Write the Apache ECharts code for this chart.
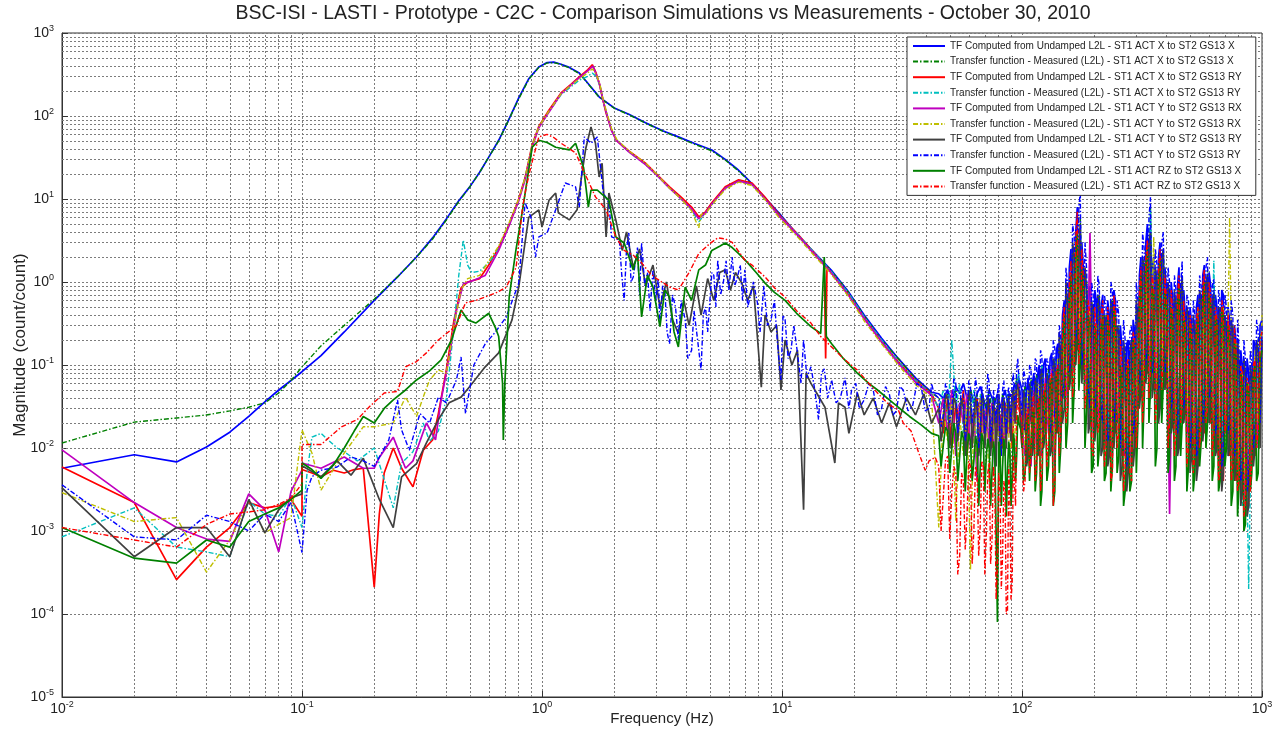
<!DOCTYPE html>
<html>
<head>
<meta charset="utf-8">
<script src="https://cdn.jsdelivr.net/npm/echarts@6.0.0/dist/echarts.min.js"></script>
<style>
  html, body { margin: 0; padding: 0; background: #fff; }
  #chart { width: 1280px; height: 742px; }
</style>
</head>
<body>
<div id="chart"></div>
<script>
// ---------------------------------------------------------------
// Transfer functions, magnitude (count/count) against frequency (Hz)
// ---------------------------------------------------------------

const TITLE = 'BSC-ISI - LASTI - Prototype - C2C - Comparison Simulations vs Measurements - October 30, 2010';

const SERIES_NAMES = [
  'TF Computed from Undamped L2L - ST1 ACT X to ST2 GS13 X',
  'Transfer function - Measured (L2L) - ST1 ACT X to ST2 GS13 X',
  'TF Computed from Undamped L2L - ST1 ACT X to ST2 GS13 RY',
  'Transfer function - Measured (L2L) - ST1 ACT X to ST2 GS13 RY',
  'TF Computed from Undamped L2L - ST1 ACT Y to ST2 GS13 RX',
  'Transfer function - Measured (L2L) - ST1 ACT Y to ST2 GS13 RX',
  'TF Computed from Undamped L2L - ST1 ACT Y to ST2 GS13 RY',
  'Transfer function - Measured (L2L) - ST1 ACT Y to ST2 GS13 RY',
  'TF Computed from Undamped L2L - ST1 ACT RZ to ST2 GS13 X',
  'Transfer function - Measured (L2L) - ST1 ACT RZ to ST2 GS13 X'
];

// decade tick values
const X_TICKS = [0.01, 0.1, 1, 10, 100, 1000];
const Y_TICKS = [1e-5, 1e-4, 1e-3, 1e-2, 1e-1, 1, 10, 100, 1000];

// shared frequency grids for the noisy upper band
const MF_FREQ = [45, 47, 49, 51, 53, 55, 57, 59, 61, 63, 65, 67, 69, 71, 73, 75, 77, 79, 81, 83, 85, 87, 89, 91, 93, 95, 97];
const MF_MID = [46, 48, 50, 52, 54, 56, 58, 60, 62, 64, 66, 68, 70, 72, 74, 76, 78, 80, 82, 84, 86, 88, 90, 92, 94, 96];
const HF_FREQ = [
  100, 103, 106, 109, 112, 115,
  118, 121, 125, 129, 133, 137, 141, 145,
  150, 155, 160, 165, 170, 175, 180,
  186, 192, 198, 204,
  210, 217, 224, 231, 238, 245, 253,
  261, 269, 277, 286, 295,
  304, 313, 323, 333, 343,
  354, 365, 376, 388, 400, 412,
  425, 438, 451, 465, 479, 494,
  509, 525, 541, 558, 575, 593,
  611, 630, 649, 669, 690,
  711, 733, 756, 779,
  803, 828, 853, 880, 907,
  935, 964, 1000
];
const HF_MID = [
  101.5, 104.5, 107.5, 110.5, 113.5, 116.5,
  119.5, 123, 127, 131, 135, 139, 143, 147.5,
  152.5, 157.5, 162.5, 167.5, 172.5, 177.5, 183,
  189, 195, 201, 207,
  213.5, 220.5, 227.5, 234.5, 241.5, 249, 257,
  265, 273, 281.5, 290.5, 299.5,
  308.5, 318, 328, 338, 348.5,
  359.5, 370.5, 382, 394, 406, 418.5,
  431.5, 444.5, 458, 472, 486.5, 501.5,
  517, 533, 549.5, 566.5, 584, 602,
  620.5, 639.5, 659, 679.5, 700.5,
  722, 744.5, 767.5, 791,
  815.5, 840.5, 866.5, 893.5, 921,
  949.5, 982
];

// ---- ST1 ACT X -> ST2 GS13 X, computed ----
const xToX_model = [
  [0.01, 5.7e-3], [0.02, 8.3e-3], [0.03, 6.8e-3], [0.04, 1.03e-2], [0.05, 1.55e-2], [0.06, 2.4e-2],
  [0.07, 3.6e-2], [0.08, 5.0e-2], [0.09, 6.5e-2], [0.1, 8.3e-2], [0.12, 0.13], [0.15, 0.25], [0.2, 0.6],
  [0.25, 1.15], [0.3, 2.0], [0.35, 3.4], [0.4, 5.8], [0.45, 9.5], [0.5, 14], [0.55, 21], [0.6, 32],
  [0.66, 51], [0.72, 85], [0.8, 165], [0.88, 280], [0.97, 390], [1.05, 440], [1.12, 445], [1.2, 420],
  [1.3, 385], [1.43, 330], [1.55, 250], [1.73, 170], [2.0, 125], [2.3, 105], [2.7, 83], [3.2, 66],
  [3.7, 56], [4.3, 47], [5.1, 39], [5.8, 30], [6.5, 23], [7.05, 18.4], [8, 12.5], [9.7, 6.8],
  [11.7, 3.6], [13.2, 2.5], [16, 1.4], [19, 0.75], [22, 0.4], [26, 0.21], [30.5, 0.12], [36, 0.07], [42, 0.047]
];
const xToX_modelMF = [0.045, 0.04, 0.05, 0.035, 0.055, 0.045, 0.06, 0.04, 0.05, 0.035, 0.045, 0.055, 0.04, 0.03,
  0.05, 0.04, 0.035, 0.045, 0.03, 0.04, 0.05, 0.035, 0.045, 0.04, 0.06, 0.05, 0.07];
const xToX_modelHF = [
  0.05, 0.02, 0.07, 0.025, 0.08, 0.03,
  0.1, 0.02, 0.12, 0.03, 0.14, 0.025, 0.18, 0.04,
  0.6, 0.08, 2.5, 0.2, 8, 0.4, 1.5,
  0.08, 0.9, 0.03, 0.6,
  0.05, 0.7, 0.02, 0.4, 0.015, 0.6, 0.03,
  0.15, 0.01, 0.2, 0.01, 0.25,
  0.06, 2, 0.12, 5, 0.2,
  2, 0.08, 3, 0.2, 0.8, 0.05,
  0.6, 0.03, 1.5, 0.06, 0.4, 0.02,
  0.3, 0.015, 0.7, 0.04, 1.6, 0.06,
  0.9, 0.03, 0.5, 0.01, 0.7,
  0.04, 0.35, 0.015, 0.2,
  0.01, 0.1, 0.006, 0.08, 0.02,
  0.18, 0.03, 0.35
];
const xToX_modelHFmid = [
  0.015, 0.05, 0.02, 0.06, 0.02, 0.08,
  0.015, 0.1, 0.02, 0.12, 0.015, 0.15, 0.025, 0.4,
  0.05, 1.5, 0.1, 4, 0.15, 3, 0.06,
  0.7, 0.02, 0.8, 0.025,
  0.5, 0.012, 0.6, 0.01, 0.8, 0.02, 0.3,
  0.008, 0.18, 0.008, 0.35, 0.03,
  1.2, 0.05, 3, 0.1, 1.5,
  0.05, 2, 0.1, 1.5, 0.03, 1,
  0.02, 0.9, 0.04, 0.8, 0.015, 0.5,
  0.01, 0.5, 0.03, 1.2, 0.04, 1.3,
  0.02, 0.7, 0.008, 0.8, 0.03,
  0.5, 0.01, 0.3, 0.008,
  0.15, 0.005, 0.12, 0.01, 0.2,
  0.02, 0.3
];

// ---- ST1 ACT X -> ST2 GS13 X, measured ----
const xToX_meas = [
  [0.01, 1.15e-2], [0.02, 2.05e-2], [0.03, 2.3e-2], [0.04, 2.5e-2], [0.05, 2.8e-2], [0.06, 3.1e-2],
  [0.07, 3.5e-2], [0.08, 4.6e-2], [0.09, 6.5e-2], [0.1, 0.095], [0.12, 0.17], [0.15, 0.3], [0.2, 0.62],
  [0.25, 1.15], [0.3, 2.0], [0.35, 3.3], [0.4, 5.6], [0.45, 9.3], [0.5, 14], [0.55, 21], [0.6, 32],
  [0.66, 50], [0.72, 85], [0.8, 160], [0.88, 275], [0.97, 385], [1.05, 435], [1.12, 440], [1.2, 418],
  [1.3, 380], [1.43, 325], [1.55, 248], [1.73, 168], [2.0, 124], [2.3, 104], [2.7, 82], [3.2, 65],
  [3.7, 55], [4.3, 46], [5.1, 38], [5.8, 29.5], [6.5, 22.5], [7.05, 18], [8, 12.3], [9.7, 6.7],
  [11.7, 3.5], [13.2, 2.45], [16, 1.38], [19, 0.74], [22, 0.39], [26, 0.2], [30.5, 0.12], [36, 0.068], [42, 0.046]
];
const xToX_measMF = [0.04, 0.03, 0.045, 0.025, 0.05, 0.03, 0.04, 0.02, 0.05, 0.035, 0.045, 0.02, 0.04, 0.03,
  0.05, 0.025, 0.04, 0.03, 0.02, 0.045, 0.03, 0.04, 0.025, 0.05, 0.04, 0.07, 0.06];
const xToX_measHF = [
  0.02, 0.06, 0.015, 0.07, 0.02, 0.08,
  0.02, 0.1, 0.025, 0.09, 0.015, 0.12, 0.03, 0.15,
  0.05, 0.6, 0.1, 2.2, 0.25, 6, 0.12,
  1, 0.025, 0.5, 0.03,
  0.7, 0.015, 0.4, 0.01, 0.6, 0.02, 0.3,
  0.01, 0.15, 0.006, 0.2, 0.015,
  0.5, 0.06, 1.8, 0.12, 8,
  0.08, 1.2, 0.05, 2.5, 0.1, 0.7,
  0.03, 0.6, 0.015, 1.2, 0.04, 0.4,
  0.012, 0.3, 0.008, 0.6, 0.025, 1.4,
  0.04, 0.8, 0.015, 0.5, 0.006,
  0.35, 0.012, 0.3, 0.006,
  0.1, 0.003, 0.08, 0.002, 0.07,
  0.012, 0.2, 0.25
];

// ---- ST1 ACT X -> ST2 GS13 RY, computed ----
const xToRY_model = [
  [0.01, 5.9e-3], [0.02, 2.2e-3], [0.03, 2.6e-4], [0.04, 6.4e-4], [0.05, 1.1e-3], [0.06, 2.2e-3],
  [0.07, 1.9e-3], [0.08, 2.0e-3], [0.09, 2.4e-3], [0.1, 1.5e-3], [0.1, 5.5e-3], [0.11, 5.0e-3],
  [0.12, 4.5e-3], [0.135, 5.4e-3], [0.15, 5.0e-3], [0.165, 5.5e-3], [0.18, 5.7e-3], [0.2, 2.1e-4],
  [0.21, 1.6e-3], [0.22, 5.0e-3], [0.24, 1.0e-2], [0.26, 5.7e-3], [0.28, 4.0e-3], [0.29, 3.4e-3],
  [0.32, 9.4e-3], [0.35, 1.25e-2], [0.37, 2.6e-2], [0.4, 0.09], [0.43, 0.35], [0.46, 0.85], [0.49, 1.0],
  [0.55, 1.1], [0.6, 1.6], [0.66, 2.6], [0.73, 5], [0.8, 10], [0.85, 18], [0.91, 45], [0.97, 75],
  [1.07, 118], [1.2, 190], [1.32, 240], [1.43, 295], [1.55, 360], [1.62, 415], [1.68, 330], [1.73, 250],
  [1.8, 150], [1.85, 108], [1.95, 68], [2.04, 51], [2.3, 38], [2.7, 27], [3.0, 20], [3.4, 14],
  [3.8, 10.5], [4.2, 8], [4.5, 6.1], [4.8, 7], [5.1, 9], [5.8, 14], [6.6, 17], [7.5, 15.6], [8.5, 10.5],
  [9.7, 6.5], [11.7, 3.7], [13.2, 2.5], [15, 1.6], [15.2, 0.12], [15.4, 1.5], [16, 1.3], [19, 0.7],
  [22, 0.37], [26, 0.19], [30.5, 0.11], [36, 0.065], [42, 0.045]
];
const xToRY_modelMF = [0.03, 0.015, 0.04, 0.01, 0.035, 0.02, 0.05, 0.008, 0.03, 0.015, 0.04, 0.012, 0.03, 0.02,
  0.035, 0.01, 0.03, 0.015, 0.025, 0.01, 0.035, 0.015, 0.03, 0.01, 0.04, 0.05, 0.04];
const xToRY_modelHF = [
  0.01, 0.04, 0.008, 0.05, 0.012, 0.06,
  0.01, 0.07, 0.015, 0.06, 0.01, 0.09, 0.015, 0.1,
  0.04, 0.5, 0.08, 1.5, 0.15, 3, 0.1,
  0.6, 0.02, 0.3, 0.02,
  0.4, 0.01, 0.25, 0.008, 0.35, 0.015, 0.2,
  0.008, 0.1, 0.005, 0.15, 0.01,
  0.35, 0.04, 1.2, 0.08, 2.5,
  0.05, 0.9, 0.03, 1.5, 0.06, 0.5,
  0.02, 0.4, 0.01, 0.8, 0.025, 0.3,
  0.008, 0.2, 0.006, 0.45, 0.015, 0.8,
  0.02, 0.5, 0.01, 0.3, 0.004,
  0.2, 0.008, 0.15, 0.004,
  0.06, 0.003, 0.05, 0.002, 0.04,
  0.008, 0.1, 0.15
];

// ---- ST1 ACT X -> ST2 GS13 RY, measured ----
const xToRY_meas = [
  [0.01, 8.5e-4], [0.02, 1.9e-3], [0.03, 6.4e-4], [0.04, 5.6e-4], [0.05, 4.9e-4], [0.06, 2.3e-3],
  [0.07, 1.6e-3], [0.08, 1.5e-3], [0.09, 2.6e-3], [0.1, 1.1e-3], [0.105, 5e-3], [0.11, 1.35e-2],
  [0.12, 1.5e-2], [0.14, 1.0e-2], [0.15, 9e-3], [0.17, 7e-3], [0.2, 1.0e-2], [0.24, 1.9e-3],
  [0.26, 6.6e-3], [0.29, 9e-3], [0.32, 2.0e-2], [0.34, 1.2e-2], [0.37, 1.6e-2], [0.4, 0.04],
  [0.43, 0.3], [0.45, 1.2], [0.47, 3.2], [0.49, 1.6], [0.51, 1.3], [0.55, 1.35], [0.6, 1.7],
  [0.66, 2.5], [0.73, 5], [0.8, 9.7], [0.85, 18], [0.91, 44], [0.97, 74], [1.07, 113], [1.2, 180],
  [1.32, 225], [1.43, 270], [1.55, 300], [1.62, 330], [1.68, 300], [1.74, 235], [1.8, 150], [1.87, 102],
  [1.95, 68], [2.05, 51], [2.3, 37], [2.7, 26], [3.0, 19.5], [3.4, 13.5], [3.8, 10], [4.2, 7.4],
  [4.5, 5.3], [4.8, 6.8], [5.1, 8.6], [5.8, 13.5], [6.6, 16.5], [7.5, 15], [8.5, 10], [9.7, 6.4],
  [11.7, 3.7], [13.2, 2.5], [16, 1.35], [19, 0.72], [22, 0.38], [26, 0.2], [30.5, 0.11], [36, 0.065], [42, 0.045]
];
const xToRY_measMF = [0.03, 0.05, 0.02, 0.2, 0.03, 0.06, 0.015, 0.04, 0.02, 0.05, 0.01, 0.045, 0.025, 0.03,
  0.012, 0.04, 0.02, 0.03, 0.008, 0.035, 0.02, 0.045, 0.015, 0.04, 0.02, 0.06, 0.08];
const xToRY_measHF = [
  0.015, 0.05, 0.01, 0.06, 0.02, 0.07,
  0.015, 0.1, 0.02, 0.08, 0.012, 0.12, 0.02, 0.15,
  0.05, 0.7, 0.1, 2, 0.2, 4, 0.1,
  0.8, 0.02, 0.4, 0.03,
  0.6, 0.015, 0.3, 0.01, 0.5, 0.02, 0.2,
  0.01, 0.1, 0.006, 0.15, 0.01,
  0.3, 0.05, 1.2, 0.1, 7.4,
  0.06, 1.2, 0.04, 2, 0.1, 0.6,
  0.02, 0.4, 0.015, 0.9, 0.03, 0.3,
  0.01, 0.2, 0.008, 0.5, 0.02, 0.8,
  0.03, 1.8, 0.015, 0.4, 0.006,
  0.3, 0.01, 0.2, 0.005,
  0.08, 0.002, 0.06, 0.0002, 0.05,
  0.01, 0.12, 0.25
];

// ---- ST1 ACT Y -> ST2 GS13 RX, computed ----
const yToRX_model = [
  [0.01, 9.5e-3], [0.02, 2.2e-3], [0.03, 1.1e-3], [0.04, 8e-4], [0.05, 7.5e-4], [0.06, 2.8e-3],
  [0.07, 1.8e-3], [0.08, 5.6e-4], [0.09, 3e-3], [0.1, 5.4e-3], [0.1, 6.6e-3], [0.12, 5.7e-3],
  [0.15, 7.8e-3], [0.18, 5.7e-3], [0.2, 5.7e-3], [0.21, 7.7e-3], [0.24, 1.35e-2], [0.27, 5.7e-3],
  [0.29, 7e-3], [0.33, 2.0e-2], [0.36, 1.25e-2], [0.38, 3.8e-2], [0.41, 0.12], [0.44, 0.45],
  [0.47, 0.95], [0.52, 1.05], [0.58, 1.2], [0.66, 2.4], [0.73, 4.8], [0.8, 9.5], [0.85, 17], [0.91, 42],
  [0.97, 72], [1.07, 112], [1.2, 185], [1.32, 235], [1.43, 290], [1.55, 350], [1.63, 400], [1.68, 320],
  [1.74, 240], [1.8, 150], [1.87, 100], [1.95, 66], [2.05, 50], [2.3, 37], [2.7, 26], [3.0, 19.5],
  [3.4, 13.5], [3.8, 10], [4.2, 7.6], [4.5, 5.8], [4.8, 6.8], [5.1, 8.7], [5.8, 13.5], [6.6, 16.5],
  [7.5, 15], [8.5, 10], [9.7, 6.3], [11.7, 3.6], [13.2, 2.4], [16, 1.3], [19, 0.68], [22, 0.36],
  [26, 0.19], [30.5, 0.105], [36, 0.062], [42, 0.043]
];
const yToRX_modelMF = [0.02, 0.04, 0.015, 0.05, 0.008, 0.035, 0.02, 0.045, 0.01, 0.03, 0.004, 0.04, 0.015, 0.03,
  0.01, 0.035, 0.006, 0.03, 0.012, 0.04, 0.008, 0.03, 0.015, 0.045, 0.02, 0.05, 0.06];
const yToRX_modelHF = [
  0.02, 0.008, 0.04, 0.006, 0.05, 0.01,
  0.05, 0.008, 0.07, 0.015, 0.09, 0.006, 0.1, 0.012,
  0.25, 0.03, 0.6, 0.08, 1.5, 0.15, 0.5,
  0.04, 3.9, 0.015, 0.25,
  0.02, 0.3, 0.01, 0.15, 0.008, 0.25, 0.015,
  0.06, 0.008, 0.08, 0.006, 0.12,
  0.03, 0.6, 0.04, 1.5, 0.06,
  0.8, 0.03, 1.2, 0.08, 0.5, 0.0016,
  0.3, 0.015, 0.6, 0.02, 0.25, 0.01,
  0.15, 0.006, 0.4, 0.015, 0.7, 0.02,
  0.3, 0.01, 0.25, 0.006, 0.35,
  0.015, 0.15, 0.005, 0.1,
  0.004, 0.06, 0.002, 0.05, 0.006,
  0.1, 0.01, 0.2
];

// ---- ST1 ACT Y -> ST2 GS13 RX, measured ----
const yToRX_meas = [
  [0.01, 2.9e-3], [0.02, 1.3e-3], [0.03, 1.45e-3], [0.04, 3.2e-4], [0.05, 7.8e-4], [0.06, 2.3e-3],
  [0.07, 9.5e-4], [0.08, 1.2e-3], [0.09, 1.45e-3], [0.1, 1.65e-2], [0.11, 8.7e-3], [0.12, 3.1e-3],
  [0.14, 6.6e-3], [0.18, 1.8e-2], [0.2, 1.8e-2], [0.24, 2.0e-2], [0.27, 4.1e-2], [0.3, 2.4e-2],
  [0.32, 4.1e-2], [0.34, 6.6e-2], [0.37, 0.087], [0.4, 0.08], [0.43, 0.3], [0.46, 0.8], [0.49, 1.1],
  [0.55, 1.2], [0.6, 1.8], [0.66, 2.7], [0.73, 5.2], [0.8, 10], [0.85, 18], [0.91, 44], [0.97, 74],
  [1.07, 115], [1.2, 185], [1.32, 235], [1.43, 280], [1.55, 330], [1.62, 370], [1.68, 320], [1.74, 245],
  [1.8, 155], [1.87, 105], [1.95, 70], [2.05, 52], [2.3, 38], [2.7, 27], [3.0, 20], [3.4, 13.5],
  [3.8, 10], [4.2, 7.2], [4.4, 5.2], [4.5, 4.5], [4.6, 6.5], [4.8, 6.6], [5.1, 8.5], [5.8, 13],
  [6.6, 16], [7.5, 14.5], [8.5, 9.8], [9.7, 6.0], [11.7, 3.4], [13.2, 2.3], [16, 1.25], [19, 0.66],
  [22, 0.34], [26, 0.18], [30.5, 0.1], [36, 0.058], [42, 0.04]
];
const yToRX_measMF = [0.0011, 0.03, 0.012, 0.04, 0.0013, 0.025, 0.008, 0.035, 0.00034, 0.03, 0.006, 0.04, 0.01,
  0.025, 0.004, 0.03, 0.008, 0.02, 0.005, 0.03, 0.01, 0.04, 0.006, 0.035, 0.01, 0.05, 0.04];
const yToRX_measHF = [
  0.03, 0.01, 0.05, 0.008, 0.04, 0.015,
  0.06, 0.01, 0.05, 0.02, 0.08, 0.01, 0.12, 0.02,
  0.3, 0.05, 0.8, 0.1, 2.5, 0.2, 0.6,
  0.05, 0.5, 0.02, 0.3,
  0.03, 0.4, 0.02, 0.2, 0.01, 0.3, 0.02,
  0.08, 0.01, 0.1, 0.008, 0.15,
  0.04, 0.8, 0.05, 2, 0.1,
  3.5, 0.05, 1.5, 0.1, 0.6, 0.03,
  0.4, 0.02, 0.8, 0.03, 0.3, 0.02,
  0.2, 0.01, 0.5, 0.02, 0.9, 0.03,
  0.4, 0.02, 0.3, 0.01, 0.5,
  0.02, 6, 0.01, 0.2,
  0.005, 0.08, 0.003, 0.06, 0.01,
  0.15, 0.02, 0.4
];

// ---- ST1 ACT Y -> ST2 GS13 RY, computed ----
const yToRY_model = [
  [0.01, 3.3e-3], [0.02, 4.9e-4], [0.03, 1.1e-3], [0.04, 1.1e-3], [0.05, 4.9e-4], [0.06, 2.4e-3],
  [0.07, 9.5e-4], [0.08, 1.8e-3], [0.09, 2.5e-3], [0.1, 2.8e-3], [0.1, 6.1e-3], [0.12, 4.5e-3],
  [0.14, 7e-3], [0.16, 4.7e-3], [0.18, 7.5e-3], [0.21, 2.4e-3], [0.24, 1.1e-3], [0.26, 4.5e-3],
  [0.3, 6.5e-3], [0.33, 1.15e-2], [0.37, 2.2e-2], [0.41, 3.5e-2], [0.46, 4.1e-2], [0.5, 5.5e-2],
  [0.58, 9.5e-2], [0.66, 0.14], [0.75, 0.35], [0.8, 0.87], [0.85, 3], [0.88, 6], [0.97, 7.4], [1.0, 4.6],
  [1.07, 9.7], [1.14, 11.8], [1.17, 6.8], [1.3, 5.6], [1.4, 7.4], [1.46, 18.4], [1.52, 40], [1.6, 74],
  [1.67, 47], [1.73, 18.4], [1.78, 27], [1.85, 3.5], [1.9, 11.8], [2.03, 5.6], [2.16, 2.4], [2.25, 4],
  [2.4, 1.5], [2.55, 2.5], [2.7, 0.9], [2.9, 1.6], [3.1, 0.5], [3.3, 1.0], [3.5, 0.35], [3.7, 0.24],
  [3.9, 0.6], [4.1, 0.3], [4.4, 0.9], [4.6, 0.4], [4.9, 1.1], [5.2, 0.6], [5.5, 1.3], [5.8, 1.4],
  [6.1, 0.8], [6.4, 1.3], [6.8, 0.97], [7.2, 0.6], [7.6, 0.9], [8.2, 0.054], [8.5, 0.4], [9, 0.25],
  [9.5, 0.3], [9.9, 0.05], [10.3, 0.2], [11, 0.1], [11.6, 0.15], [12.3, 1.8e-3], [12.6, 0.08],
  [13.2, 0.06], [14, 0.045], [15.1, 0.031], [16.6, 6.6e-3], [17.2, 0.035], [18.3, 0.031], [19, 0.015],
  [20.6, 0.046], [22, 0.025], [24, 0.04], [26, 0.02], [28, 0.035], [30, 0.018], [33, 0.04], [36, 0.025],
  [39, 0.045], [42, 0.02]
];
const yToRY_modelMF = [0.03, 0.02, 0.04, 0.018, 0.035, 0.025, 0.03, 0.015, 0.04, 0.02, 0.03, 0.012, 0.035, 0.02,
  0.03, 0.015, 0.025, 0.03, 0.01, 0.035, 0.02, 0.03, 0.02, 0.04, 0.025, 0.06, 0.05];
const yToRY_modelMFmid = [0.012, 0.045, 0.01, 0.04, 0.012, 0.04, 0.008, 0.05, 0.01, 0.04, 0.008, 0.045, 0.01,
  0.04, 0.008, 0.04, 0.006, 0.045, 0.008, 0.04, 0.01, 0.045, 0.012, 0.05, 0.02, 0.06];
const yToRY_modelHF = [
  0.01, 0.04, 0.008, 0.05, 0.012, 0.06,
  0.01, 0.08, 0.015, 0.06, 0.01, 0.1, 0.02, 0.12,
  0.03, 0.5, 0.08, 2, 0.2, 5, 0.1,
  0.8, 0.02, 0.4, 0.02,
  0.5, 0.01, 0.3, 0.008, 0.5, 0.02, 0.25,
  0.006, 0.12, 0.005, 0.2, 0.01,
  0.4, 0.05, 1.5, 0.1, 4,
  0.06, 1, 0.03, 2.5, 0.08, 0.7,
  0.02, 0.5, 0.01, 1.2, 0.03, 0.4,
  0.008, 0.25, 0.006, 0.6, 0.02, 1.2,
  0.03, 0.7, 0.01, 0.4, 0.005,
  0.3, 0.01, 0.25, 0.006,
  0.1, 0.003, 0.08, 0.002, 0.07,
  0.01, 0.15, 0.2
];
const yToRY_modelHFmid = [
  0.05, 0.006, 0.06, 0.008, 0.07, 0.008,
  0.09, 0.01, 0.08, 0.008, 0.12, 0.015, 0.25, 0.02,
  1, 0.05, 3, 0.1, 2, 0.06, 1.5,
  0.015, 0.6, 0.012, 0.7,
  0.008, 0.4, 0.006, 0.6, 0.01, 0.3, 0.004,
  0.2, 0.003, 0.15, 0.006, 0.6,
  0.03, 2, 0.06, 3, 0.04,
  1.5, 0.02, 1.8, 0.05, 1, 0.015,
  0.8, 0.008, 0.7, 0.02, 0.5, 0.005,
  0.4, 0.004, 0.8, 0.012, 1, 0.02,
  0.6, 0.008, 0.5, 0.003, 0.4,
  0.008, 0.35, 0.004, 0.2,
  0.002, 0.12, 0.0015, 0.1, 0.006,
  0.2, 0.01
];

// ---- ST1 ACT Y -> ST2 GS13 RY, measured ----
const yToRY_meas = [
  [0.01, 3.6e-3], [0.02, 8.5e-4], [0.03, 7.8e-4], [0.04, 1.55e-3], [0.05, 1.3e-3], [0.06, 1.0e-3],
  [0.07, 1.6e-3], [0.08, 1.3e-3], [0.09, 2.2e-3], [0.1, 5.5e-4], [0.105, 3.1e-3], [0.11, 4.5e-3],
  [0.12, 5.4e-3], [0.14, 5.9e-3], [0.16, 7.8e-3], [0.18, 7e-3], [0.2, 6e-3], [0.23, 1.25e-2],
  [0.25, 3.8e-2], [0.26, 1.65e-2], [0.28, 9.4e-3], [0.31, 2.6e-2], [0.34, 2.0e-2], [0.37, 4.1e-2],
  [0.4, 3.5e-2], [0.44, 6.6e-2], [0.46, 0.125], [0.48, 0.026], [0.52, 0.1], [0.58, 0.18], [0.64, 0.25],
  [0.71, 0.38], [0.8, 0.97], [0.85, 9], [0.9, 6], [0.94, 2.0], [0.97, 3.5], [1.05, 3.9], [1.14, 7.4],
  [1.25, 15.6], [1.38, 14], [1.43, 8], [1.5, 56], [1.6, 47], [1.7, 56], [1.8, 11.8], [1.9, 9],
  [1.95, 3.5], [2.1, 3.2], [2.15, 1.2], [2.2, 0.6], [2.25, 2.5], [2.3, 3.9], [2.35, 1.0], [2.4, 1.15],
  [2.5, 2.6], [2.55, 0.7], [2.6, 2.95], [2.68, 0.9], [2.75, 1.3], [2.82, 0.45], [2.9, 1.4], [2.98, 0.6],
  [3.05, 1.1], [3.1, 0.32], [3.18, 0.9], [3.25, 0.8], [3.32, 0.25], [3.4, 0.18], [3.5, 0.7], [3.6, 0.5],
  [3.7, 0.2], [3.8, 0.6], [3.95, 0.35], [4.05, 0.12], [4.2, 0.15], [4.3, 0.45], [4.45, 0.2], [4.6, 0.087],
  [4.7, 0.4], [4.8, 0.5], [4.9, 0.25], [5.0, 0.56], [5.1, 1.3], [5.2, 1.2], [5.3, 0.5], [5.4, 1.84],
  [5.55, 0.7], [5.7, 1.0], [5.85, 1.8], [6.0, 0.8], [6.2, 2.0], [6.35, 0.9], [6.5, 1.1], [6.7, 1.6],
  [6.85, 0.6], [7.0, 1.4], [7.2, 0.5], [7.4, 0.7], [7.6, 1.0], [7.9, 0.56], [8.1, 0.25], [8.4, 0.9],
  [8.7, 0.3], [9.0, 0.35], [9.3, 0.6], [9.5, 0.25], [9.7, 0.12], [9.9, 0.066], [10.1, 0.4], [10.3, 0.35],
  [10.6, 0.12], [10.9, 0.15], [11.2, 0.3], [11.6, 0.14], [12.0, 0.06], [12.3, 0.2], [12.7, 0.07],
  [13.2, 0.095], [13.7, 0.05], [14.2, 0.022], [14.6, 0.08], [15, 0.09], [15.5, 0.04], [16.1, 0.066],
  [16.8, 0.035], [17.5, 0.04], [18.3, 0.07], [19, 0.03], [19.5, 0.05], [20.3, 0.06], [21, 0.03],
  [22, 0.038], [23, 0.06], [24, 0.05], [25, 0.025], [26, 0.03], [27, 0.055], [28, 0.045], [29, 0.025],
  [30, 0.028], [31, 0.055], [32, 0.05], [33.5, 0.028], [35, 0.032], [36.5, 0.06], [38, 0.055],
  [39.5, 0.028], [41, 0.03], [42, 0.06], [43, 0.045]
];
const yToRY_measMF = [0.04, 0.025, 0.05, 0.03, 0.06, 0.028, 0.045, 0.02, 0.055, 0.03, 0.05, 0.015, 0.04, 0.025,
  0.06, 0.02, 0.035, 0.045, 0.012, 0.05, 0.025, 0.04, 0.03, 0.06, 0.035, 0.09, 0.07];
const yToRY_measMFmid = [0.018, 0.06, 0.02, 0.07, 0.015, 0.055, 0.012, 0.065, 0.02, 0.07, 0.01, 0.055, 0.015,
  0.08, 0.012, 0.05, 0.02, 0.06, 0.008, 0.065, 0.015, 0.055, 0.02, 0.08, 0.03, 0.12];
const yToRY_measHF = [
  0.025, 0.07, 0.02, 0.09, 0.03, 0.11,
  0.025, 0.13, 0.03, 0.1, 0.02, 0.16, 0.04, 0.22,
  0.06, 0.9, 0.12, 3.5, 0.3, 12, 0.15,
  1.4, 0.03, 0.7, 0.04,
  0.9, 0.02, 0.5, 0.015, 0.8, 0.03, 0.4,
  0.01, 0.2, 0.008, 0.3, 0.02,
  0.6, 0.08, 2.5, 0.15, 10.5,
  0.1, 1.6, 0.06, 4, 0.12, 1,
  0.04, 0.8, 0.02, 1.8, 0.05, 0.6,
  0.015, 0.4, 0.01, 0.9, 0.03, 2,
  0.05, 1.1, 0.02, 0.6, 0.008,
  0.5, 0.02, 0.4, 0.01,
  0.15, 0.005, 0.12, 0.004, 0.1,
  0.015, 0.25, 0.3
];
const yToRY_measHFmid = [
  0.09, 0.015, 0.1, 0.02, 0.12, 0.02,
  0.15, 0.02, 0.12, 0.015, 0.2, 0.025, 0.3, 0.04,
  1.5, 0.08, 5, 0.2, 8, 0.1, 3,
  0.05, 1.0, 0.03, 1.2,
  0.03, 0.7, 0.012, 1.0, 0.02, 0.6, 0.01,
  0.35, 0.006, 0.25, 0.015, 1.0,
  0.06, 4, 0.1, 6, 0.08,
  2.5, 0.05, 3, 0.08, 1.5, 0.03,
  1.2, 0.015, 0.9, 0.03, 0.7, 0.01,
  0.6, 0.008, 1.2, 0.02, 1.5, 0.04,
  0.9, 0.015, 0.8, 0.006, 0.7,
  0.015, 0.6, 0.008, 0.35,
  0.004, 0.2, 0.003, 0.15, 0.01,
  0.35, 0.02
];

// ---- ST1 ACT RZ -> ST2 GS13 X, computed ----
const rzToX_model = [
  [0.01, 1.1e-3], [0.02, 4.7e-4], [0.03, 4.1e-4], [0.04, 7.8e-4], [0.05, 6.4e-4], [0.06, 1.3e-3],
  [0.07, 1.6e-3], [0.08, 1.9e-3], [0.09, 2.4e-3], [0.1, 3.1e-3], [0.1, 6.6e-3], [0.11, 5.5e-3],
  [0.12, 4.3e-3], [0.135, 6.2e-3], [0.15, 1.0e-2], [0.165, 1.6e-2], [0.18, 2.4e-2], [0.2, 2.0e-2],
  [0.22, 3.0e-2], [0.24, 3.8e-2], [0.27, 5.0e-2], [0.3, 6.6e-2], [0.34, 8.5e-2], [0.38, 0.115],
  [0.42, 0.2], [0.46, 0.46], [0.49, 0.35], [0.53, 0.32], [0.6, 0.42], [0.64, 0.28], [0.66, 0.22],
  [0.685, 0.06], [0.69, 0.0125], [0.7, 0.06], [0.73, 0.66], [0.78, 2.5], [0.83, 7.4], [0.87, 18],
  [0.91, 42], [0.97, 51], [1.05, 48], [1.14, 42], [1.3, 39], [1.38, 47], [1.49, 24], [1.56, 8],
  [1.6, 12.8], [1.7, 12.8], [1.9, 9.7], [2.03, 3.5], [2.2, 2.95], [2.4, 1.4], [2.5, 2.2], [2.6, 0.38],
  [2.75, 1.2], [2.9, 0.87], [3.1, 0.29], [3.25, 0.8], [3.4, 0.66], [3.55, 0.25], [3.7, 0.165],
  [3.95, 0.87], [4.2, 0.6], [4.5, 1.4], [4.8, 1.6], [5.1, 2.4], [5.5, 2.7], [5.8, 2.95], [6.2, 2.6],
  [6.6, 2.2], [7.2, 1.7], [7.8, 1.3], [8.5, 0.97], [9.3, 0.75], [10.3, 0.6], [11.5, 0.42], [13.2, 0.29],
  [14.5, 0.24], [15, 2.0], [15.3, 0.22], [16.1, 0.18], [18, 0.12], [20.6, 0.08], [23, 0.06], [25, 0.05],
  [28, 0.038], [30.5, 0.031], [34, 0.024], [38, 0.019], [42, 0.015]
];
const rzToX_modelMF = [0.014, 0.011, 0.016, 0.01, 0.015, 0.008, 0.013, 0.009, 0.012, 0.007, 0.011, 0.006, 0.012,
  0.008, 0.01, 0.005, 0.009, 0.00008, 0.009, 0.006, 0.01, 0.005, 0.009, 0.004, 0.012, 0.008, 0.02];
const rzToX_modelMFmid = [0.006, 0.018, 0.005, 0.02, 0.004, 0.016, 0.003, 0.015, 0.004, 0.014, 0.002, 0.015, 0.003,
  0.013, 0.002, 0.012, 0.001, 0.012, 0.002, 0.013, 0.0015, 0.012, 0.002, 0.015, 0.004, 0.025];
const rzToX_modelHF = [
  0.015, 0.005, 0.025, 0.004, 0.03, 0.005,
  0.04, 0.003, 0.05, 0.006, 0.07, 0.003, 0.09, 0.01,
  0.4, 0.02, 1.2, 0.05, 4, 0.1, 0.8,
  0.03, 0.3, 0.006, 0.2,
  0.01, 0.4, 0.005, 0.25, 0.006, 0.35, 0.008,
  0.06, 0.003, 0.1, 0.004, 0.15,
  0.02, 1.2, 0.04, 2.5, 0.05,
  0.7, 0.01, 1.8, 0.06, 0.5, 0.008,
  0.3, 0.006, 0.9, 0.02, 0.25, 0.006,
  0.2, 0.005, 0.4, 0.012, 1.0, 0.02,
  0.5, 0.006, 0.3, 0.004, 0.4,
  0.01, 0.2, 0.003, 0.12,
  0.004, 0.06, 0.0012, 0.05, 0.005,
  0.1, 0.005, 0.15
];
const rzToX_modelHFmid = [
  0.004, 0.02, 0.004, 0.025, 0.003, 0.03,
  0.002, 0.04, 0.004, 0.06, 0.002, 0.08, 0.005, 0.2,
  0.01, 0.7, 0.02, 2, 0.05, 1.5, 0.01,
  0.4, 0.005, 0.3, 0.006,
  0.25, 0.004, 0.35, 0.003, 0.5, 0.005, 0.1,
  0.002, 0.08, 0.003, 0.2, 0.005,
  0.6, 0.01, 1.5, 0.02, 0.9,
  0.006, 1.0, 0.02, 0.8, 0.005, 0.5,
  0.004, 0.5, 0.008, 0.4, 0.003, 0.3,
  0.003, 0.25, 0.006, 0.6, 0.01, 0.7,
  0.004, 0.4, 0.003, 0.5, 0.006,
  0.3, 0.002, 0.2, 0.0015,
  0.08, 0.001, 0.06, 0.003, 0.08,
  0.004, 0.12
];

// ---- ST1 ACT RZ -> ST2 GS13 X, measured ----
const rzToX_meas = [
  [0.01, 1.1e-3], [0.02, 7.8e-4], [0.03, 6.4e-4], [0.04, 1.2e-3], [0.05, 1.6e-3], [0.06, 1.7e-3],
  [0.07, 1.8e-3], [0.08, 2.1e-3], [0.09, 2.5e-3], [0.1, 3.7e-3], [0.1, 1.1e-2], [0.12, 1.1e-2],
  [0.146, 1.8e-2], [0.17, 2.2e-2], [0.19, 3.1e-2], [0.22, 4.6e-2], [0.25, 4.8e-2], [0.27, 9.5e-2],
  [0.3, 0.11], [0.33, 0.14], [0.37, 0.2], [0.4, 0.24], [0.44, 0.3], [0.48, 0.56], [0.53, 0.6],
  [0.58, 0.66], [0.65, 0.75], [0.71, 0.87], [0.78, 1.5], [0.83, 8], [0.86, 14], [0.9, 25], [0.97, 56],
  [1.05, 60], [1.12, 55], [1.2, 47], [1.38, 36], [1.5, 21], [1.67, 10.6], [1.85, 7.4], [2.03, 3.5],
  [2.2, 2.4], [2.4, 2.1], [2.6, 1.7], [2.8, 1.3], [3.0, 1.1], [3.4, 0.87], [3.7, 0.8], [4.1, 1.3],
  [4.5, 2.2], [5.0, 2.9], [5.4, 3.4], [5.8, 3.3], [6.2, 3.0], [7.0, 1.84], [7.5, 1.6], [8.5, 1.15],
  [9.3, 0.85], [10.3, 0.66], [11.5, 0.45], [13.2, 0.32], [14.5, 0.22], [16.1, 0.165], [18, 0.12],
  [20.6, 0.087], [23, 0.06], [25, 0.046], [28, 0.033], [30.5, 0.029], [32, 0.02], [34.5, 0.016],
  [37, 0.009], [39.5, 0.0054], [41, 0.007], [43.5, 0.0077]
];
const rzToX_measMF = [0.006, 0.0026, 0.008, 0.003, 0.005, 0.0005, 0.004, 0.0015, 0.006, 0.001, 0.005, 0.0012,
  0.006, 0.00085, 0.0066, 0.0008, 0.004, 0.0004, 0.003, 0.0005, 0.003, 0.00011, 0.0026, 0.00023, 0.004, 0.026, 0.03];
const rzToX_measMFmid = [0.001, 0.007, 0.0008, 0.006, 0.0003, 0.005, 0.0006, 0.007, 0.0004, 0.006, 0.0005, 0.007,
  0.0003, 0.005, 0.0004, 0.006, 0.00015, 0.005, 0.0002, 0.004, 0.0001, 0.006, 0.00015, 0.008, 0.002, 0.04];
const rzToX_measHF = [
  0.02, 0.004, 0.03, 0.008, 0.045, 0.006,
  0.035, 0.005, 0.06, 0.012, 0.08, 0.004, 0.1, 0.015,
  0.5, 0.03, 1.8, 0.08, 7, 0.2, 1.2,
  0.05, 0.4, 0.008, 0.25,
  0.02, 0.6, 0.01, 0.3, 0.005, 0.45, 0.015,
  0.09, 0.006, 0.12, 0.004, 0.2,
  0.03, 1.5, 0.06, 3.2, 0.08,
  0.9, 0.04, 2.5, 0.1, 0.6, 0.02,
  0.4, 0.015, 1.2, 0.03, 0.3, 0.01,
  0.25, 0.008, 0.5, 0.02, 1.4, 0.03,
  0.7, 0.015, 0.35, 0.005, 0.5,
  0.02, 0.25, 0.006, 0.15,
  0.004, 0.08, 0.002, 0.06, 0.008,
  0.12, 0.015, 0.25
];
const rzToX_measHFmid = [
  0.003, 0.025, 0.005, 0.035, 0.004, 0.04,
  0.003, 0.05, 0.006, 0.07, 0.002, 0.09, 0.008, 0.3,
  0.02, 1.0, 0.04, 3.5, 0.1, 2.5, 0.03,
  0.6, 0.01, 0.5, 0.015,
  0.4, 0.006, 0.5, 0.004, 0.7, 0.01, 0.2,
  0.003, 0.1, 0.005, 0.25, 0.01,
  0.8, 0.02, 2, 0.04, 1.2,
  0.02, 1.5, 0.05, 1.2, 0.01, 0.8,
  0.008, 0.7, 0.02, 0.6, 0.006, 0.4,
  0.005, 0.35, 0.01, 0.9, 0.02, 1.0,
  0.008, 0.5, 0.004, 0.6, 0.015,
  0.4, 0.004, 0.3, 0.003,
  0.1, 0.0015, 0.07, 0.003, 0.1,
  0.01, 0.2
];

// ---------------------------------------------------------------
function pairUp(freqs, mags) {
  return mags ? freqs.map((f, i) => [f, mags[i]]) : [];
}
// joins the low-band points with the two shared upper-band grids
function trace(low, mf, hf, mfMid, hfMid) {
  const upper = pairUp(MF_FREQ, mf)
    .concat(pairUp(MF_MID, mfMid), pairUp(HF_FREQ, hf), pairUp(HF_MID, hfMid))
    .sort((a, b) => a[0] - b[0]);
  return low.concat(upper);
}

const SOLID = 'solid';
const DASH_DOT = [5, 2, 1.5, 2];

const traces = [
  { data: trace(xToX_model, xToX_modelMF, xToX_modelHF, null, xToX_modelHFmid), color: '#0000ff', dash: SOLID },
  { data: trace(xToX_meas, xToX_measMF, xToX_measHF), color: '#008000', dash: DASH_DOT },
  { data: trace(xToRY_model, xToRY_modelMF, xToRY_modelHF), color: '#ff0000', dash: SOLID },
  { data: trace(xToRY_meas, xToRY_measMF, xToRY_measHF), color: '#00bfbf', dash: DASH_DOT },
  { data: trace(yToRX_model, yToRX_modelMF, yToRX_modelHF), color: '#bf00bf', dash: SOLID },
  { data: trace(yToRX_meas, yToRX_measMF, yToRX_measHF), color: '#bfbf00', dash: DASH_DOT },
  { data: trace(yToRY_model, yToRY_modelMF, yToRY_modelHF, yToRY_modelMFmid, yToRY_modelHFmid), color: '#404040', dash: SOLID },
  { data: trace(yToRY_meas, yToRY_measMF, yToRY_measHF, yToRY_measMFmid, yToRY_measHFmid), color: '#0000ff', dash: DASH_DOT },
  { data: trace(rzToX_model, rzToX_modelMF, rzToX_modelHF, rzToX_modelMFmid, rzToX_modelHFmid), color: '#008000', dash: SOLID },
  { data: trace(rzToX_meas, rzToX_measMF, rzToX_measHF, rzToX_measMFmid, rzToX_measHFmid), color: '#ff0000', dash: DASH_DOT }
];

// minor grid positions (2..9 within each decade)
function minorValues(decades) {
  const out = [];
  for (let i = 0; i < decades.length - 1; i++) {
    for (let k = 2; k <= 9; k++) out.push(+(decades[i] * k).toPrecision(6));
  }
  return out;
}
const X_MINOR = minorValues(X_TICKS);
const Y_MINOR = minorValues(Y_TICKS);

const FONT = '"Liberation Sans", Arial, Helvetica, sans-serif';
const GRID_COLOR = '#7c7c7c';
const GRID_DASH = [2, 2];

function powerLabel(v) {
  const e = Math.round(Math.log10(v));
  return '{b|10}{e|' + e + '}';
}
const labelRich = {
  b: { fontSize: 14, fontFamily: FONT, color: '#222', lineHeight: 18 },
  e: { fontSize: 9, fontFamily: FONT, color: '#222', verticalAlign: 'top', lineHeight: 10 }
};

const chart = echarts.init(document.getElementById('chart'), null, { renderer: 'canvas' });

const series = traces.map((t, i) => ({
  name: SERIES_NAMES[i],
  type: 'line',
  data: t.data,
  symbol: 'none',
  showSymbol: false,
  smooth: false,
  silent: true,
  z: 3,
  lineStyle: { color: t.color, width: t.dash === SOLID ? 1.7 : 1.4, type: t.dash },
  itemStyle: { color: t.color },
  emphasis: { disabled: true }
}));

// dotted minor grid, kept beneath the curves
series.unshift({
  name: 'minor-grid',
  type: 'line',
  data: [],
  silent: true,
  z: 1,
  markLine: {
    z: 1,
    silent: true,
    symbol: ['none', 'none'],
    animation: false,
    label: { show: false },
    emphasis: { disabled: true },
    lineStyle: { color: GRID_COLOR, type: GRID_DASH, width: 1 },
    data: X_MINOR.map(v => ({ xAxis: v })).concat(Y_MINOR.map(v => ({ yAxis: v })))
  }
});

chart.setOption({
  backgroundColor: '#ffffff',
  animation: false,
  title: {
    text: TITLE,
    left: 663,
    textAlign: 'center',
    top: 4,
    padding: 0,
    textStyle: { fontFamily: FONT, fontSize: 19.5, fontWeight: 'normal', color: '#222' }
  },
  legend: {
    data: SERIES_NAMES,
    orient: 'vertical',
    left: 907,
    top: 37,
    z: 20,
    align: 'left',
    padding: [4, 14, 4, 5],
    itemWidth: 32,
    itemHeight: 11,
    itemGap: 5.6,
    selectedMode: false,
    backgroundColor: '#ffffff',
    borderColor: '#333',
    borderWidth: 1,
    borderRadius: 0,
    itemStyle: { opacity: 0 },
    textStyle: { fontFamily: FONT, fontSize: 10, color: '#222' }
  },
  grid: {
    left: 62, right: 18, top: 33, bottom: 45,
    outerBoundsMode: 'none',
    containLabel: false,
    show: true,
    borderColor: '#333',
    borderWidth: 1,
    backgroundColor: 'transparent'
  },
  xAxis: {
    type: 'log',
    logBase: 10,
    min: 0.01,
    max: 1000,
    splitNumber: 5,
    name: 'Frequency (Hz)',
    nameLocation: 'middle',
    nameGap: 14,
    nameMoveOverlap: false,
    nameTextStyle: { fontFamily: FONT, fontSize: 15, color: '#222' },
    axisLine: { show: true, onZero: false, lineStyle: { color: '#333', width: 1 } },
    axisTick: { show: true, inside: true, length: 6, lineStyle: { color: '#333' } },
    axisLabel: { formatter: powerLabel, rich: labelRich, margin: 3 },
    splitLine: { show: true, lineStyle: { color: GRID_COLOR, type: GRID_DASH, width: 1 } }
  },
  yAxis: {
    type: 'log',
    logBase: 10,
    min: 1e-5,
    max: 1e3,
    splitNumber: 8,
    name: 'Magnitude (count/count)',
    nameLocation: 'middle',
    nameGap: 33,
    nameMoveOverlap: false,
    nameRotate: 90,
    nameTextStyle: { fontFamily: FONT, fontSize: 17, color: '#222', padding: [0, 0, 0, 40] },
    axisLine: { show: true, onZero: false, lineStyle: { color: '#333', width: 1 } },
    axisTick: { show: true, inside: true, length: 6, lineStyle: { color: '#333' } },
    axisLabel: { formatter: powerLabel, rich: labelRich, margin: 8 },
    splitLine: { show: true, lineStyle: { color: GRID_COLOR, type: GRID_DASH, width: 1 } }
  },
  series: series
});
</script>
</body>
</html>
